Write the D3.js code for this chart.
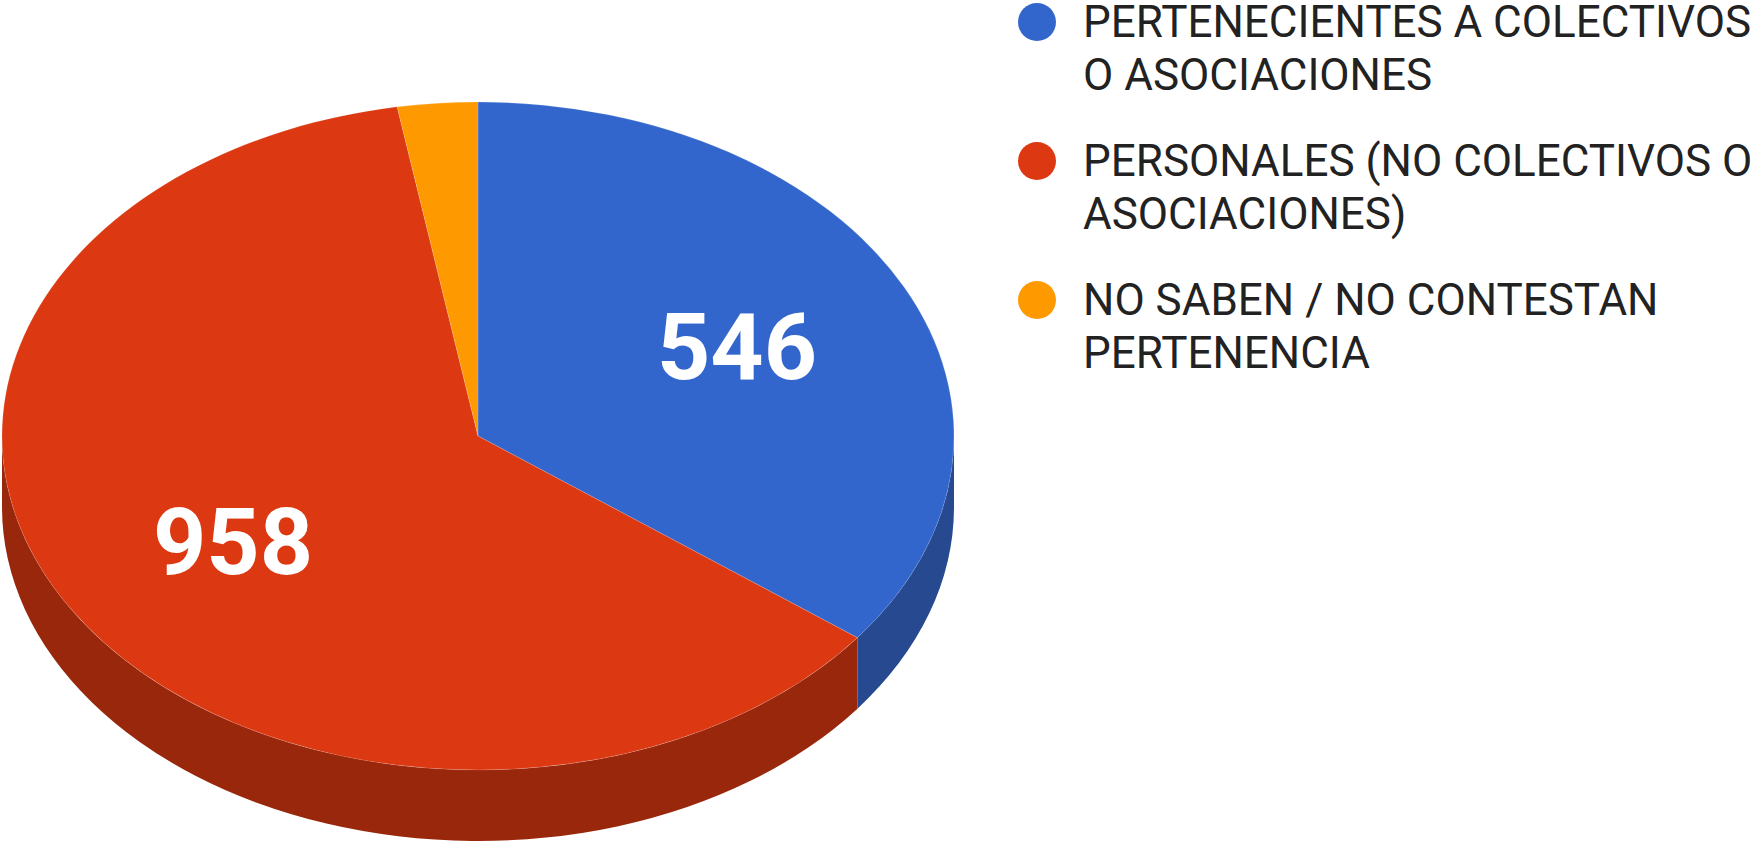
<!DOCTYPE html>
<html>
<head>
<meta charset="utf-8">
<script src="https://cdn.jsdelivr.net/npm/d3@7"></script>
<style>
  html, body { margin: 0; padding: 0; background: #fff; overflow: hidden; }
  text { font-family: Roboto, sans-serif; }
</style>
</head>
<body>
<svg id="chart" width="1756" height="841"></svg>
<script>
/* chart data */

const categories = ["PERTENECIENTES", "PERSONALES", "NO SABEN"];
const values = [546, 958, 42];
const legendLines = [
  ["PERTENECIENTES A COLECTIVOS", "O ASOCIACIONES"],
  ["PERSONALES (NO COLECTIVOS O", "ASOCIACIONES)"],
  ["NO SABEN / NO CONTESTAN", "PERTENENCIA"]
];
const topColors = ["#3366cc", "#dc3912", "#ff9900"];
const sideColors = ["#26498f", "#98270b", "#b36b00"];

/* pie geometry */

const cx = 478;
const cy = 436;
const rx = 476;
const ry = 334;
const depth = 71;
const squash = ry / rx;

const svg = d3.select("#chart");

const pie = d3.pie().sort(null).value(d => d.value);
const slices = pie(categories.map((c, i) => ({ name: c, value: values[i], index: i })));

const arc = d3.arc().innerRadius(0).outerRadius(rx);

// angle is clockwise from 12 o'clock, same as d3.pie
function rimPoint(a) {
  return [cx + rx * Math.sin(a), cy - ry * Math.cos(a)];
}

// wall under the part of a slice that faces the viewer
function sidePath(d) {
  const a0 = Math.max(d.startAngle, Math.PI / 2);
  const a1 = Math.min(d.endAngle, Math.PI * 1.5);
  if (a1 <= a0) return null;
  const p0 = rimPoint(a0);
  const p1 = rimPoint(a1);
  return "M" + p0 +
    "A" + rx + "," + ry + " 0 0 1 " + p1 +
    "L" + p1[0] + "," + (p1[1] + depth) +
    "A" + rx + "," + ry + " 0 0 0 " + p0[0] + "," + (p0[1] + depth) +
    "Z";
}

svg.append("g")
  .attr("class", "sides")
  .selectAll("path")
  .data(slices.filter(d => sidePath(d)))
  .enter().append("path")
  .attr("d", sidePath)
  .attr("fill", d => sideColors[d.data.index]);

svg.append("g")
  .attr("class", "tops")
  .attr("transform", "translate(" + cx + "," + cy + ") scale(1," + squash + ")")
  .selectAll("path")
  .data(slices)
  .enter().append("path")
  .attr("d", arc)
  .attr("fill", d => topColors[d.data.index])
  .attr("stroke", "#fff")
  .attr("stroke-opacity", 0.15)
  .attr("stroke-width", 1)
  .attr("vector-effect", "non-scaling-stroke");

// value labels sit at about 0.6 of the radius, tiny slice gets none
svg.append("g")
  .attr("class", "labels")
  .selectAll("text")
  .data(slices.filter(d => d.endAngle - d.startAngle > 0.5))
  .enter().append("text")
  .attr("x", d => Math.round(cx + 0.605 * rx * Math.sin((d.startAngle + d.endAngle) / 2)) + 1)
  .attr("y", d => Math.round(cy - 0.605 * ry * Math.cos((d.startAngle + d.endAngle) / 2)))
  .attr("dy", "0.355em")
  .attr("text-anchor", "middle")
  .attr("font-size", 93)
  .attr("font-weight", 700)
  .attr("fill", "#fff")
  .text(d => d.data.value);

/* legend */

const legendY = d3.scalePoint()
  .domain(categories)
  .range([22, 300]);

const legend = svg.append("g")
  .attr("class", "legend")
  .selectAll("g")
  .data(categories)
  .enter().append("g")
  .attr("transform", d => "translate(0," + legendY(d) + ")");

legend.append("circle")
  .attr("cx", 1037)
  .attr("r", 19)
  .attr("fill", (d, i) => topColors[i]);

legend.each(function (d, i) {
  d3.select(this).selectAll("text")
    .data(legendLines[i])
    .enter().append("text")
    .attr("x", 1083)
    .attr("y", (t, j) => 15 + j * 53)
    .attr("font-size", 44)
    .attr("fill", "#222")
    .text(t => t);
});
</script>
</body>
</html>
